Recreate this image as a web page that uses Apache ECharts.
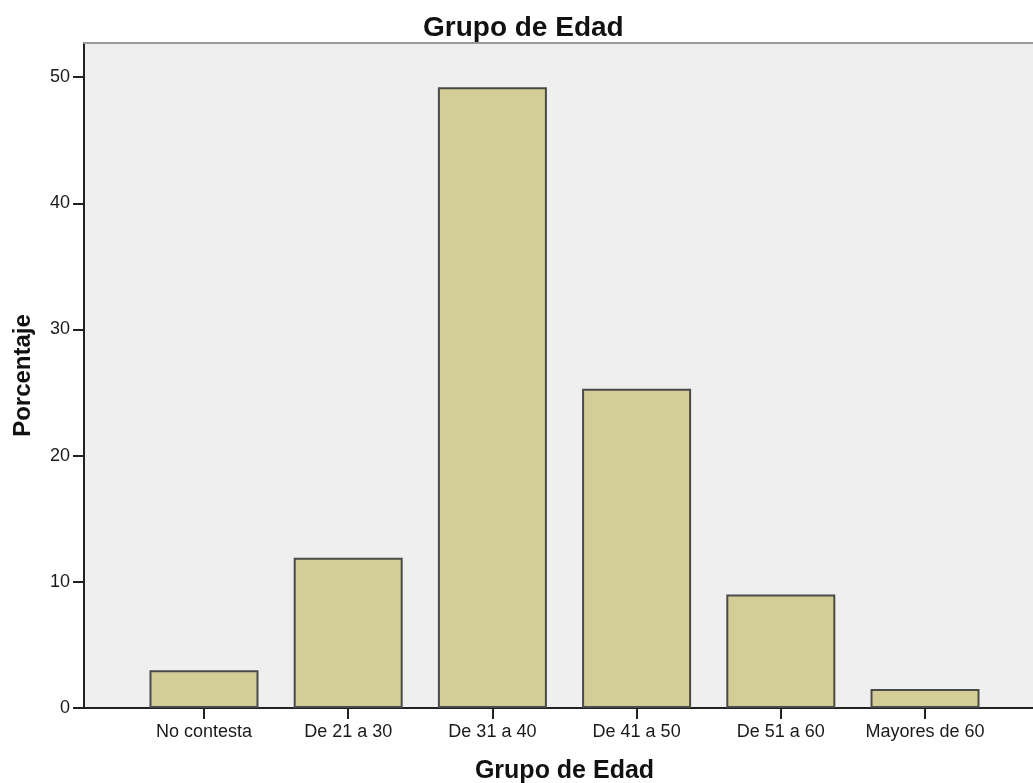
<!DOCTYPE html>
<html>
<head>
<meta charset="utf-8">
<title>Grupo de Edad</title>
<script src="https://cdn.jsdelivr.net/npm/echarts@6/dist/echarts.min.js"></script>
<style>
  html, body { margin: 0; padding: 0; background: #ffffff; }
  #chart { width: 1033px; height: 783px; }
</style>
</head>
<body>
<div id="chart"></div>
<script>
// Age groups and the share of respondents in each (percent)
const categories = ['No contesta', 'De 21 a 30', 'De 31 a 40', 'De 41 a 50', 'De 51 a 60', 'Mayores de 60'];
const percentages = [3.0, 11.9, 49.2, 25.3, 9.0, 1.5];
const yTicks = [0, 10, 20, 30, 40, 50];

const FONT = "'Liberation Sans', Arial, sans-serif";
const catPositions = categories.map((_, i) => i);

const chart = echarts.init(document.getElementById('chart'), null, { renderer: 'canvas' });

chart.setOption({
  backgroundColor: '#ffffff',
  animation: false,
  title: {
    text: 'Grupo de Edad',
    left: 418,
    top: 9,
    textStyle: { fontFamily: FONT, fontSize: 28, fontWeight: 'bold', color: '#111111' }
  },
  grid: {
    left: 84,
    top: 43,
    right: -12,
    bottom: 75,
    outerBoundsMode: 'none',
    containLabel: false,
    show: true,
    backgroundColor: '#efefef',
    borderWidth: 0
  },
  xAxis: [
    {
      type: 'value',
      min: -0.832,
      max: 5.832,
      position: 'bottom',
      name: 'Grupo de Edad',
      nameLocation: 'middle',
      nameGap: 51,
      nameTextStyle: { fontFamily: FONT, fontSize: 25, fontWeight: 'bold', color: '#111111' },
      axisLine: { show: true, onZero: false, lineStyle: { color: '#222222', width: 2 } },
      axisTick: { show: true, length: 11, customValues: catPositions, lineStyle: { color: '#222222', width: 2 } },
      axisLabel: {
        customValues: catPositions,
        formatter: (v) => categories[Math.round(v)],
        fontFamily: FONT, fontSize: 18, color: '#1a1a1a', margin: 15
      },
      splitLine: { show: false }
    },
    {
      type: 'value',
      min: 0,
      max: 1,
      position: 'top',
      axisLine: { show: true, onZero: false, lineStyle: { color: '#9a9a9a', width: 2 } },
      axisTick: { show: false },
      axisLabel: { show: false },
      splitLine: { show: false }
    }
  ],
  yAxis: {
    type: 'value',
    min: 0,
    max: 52.7,
    interval: 10,
    name: 'Porcentaje',
    nameLocation: 'middle',
    nameRotate: 90,
    nameGap: 49,
    nameTextStyle: { fontFamily: FONT, fontSize: 24, fontWeight: 'bold', color: '#111111' },
    axisLine: { show: true, onZero: false, lineStyle: { color: '#222222', width: 2 } },
    axisTick: { show: true, length: 11, customValues: yTicks, lineStyle: { color: '#222222', width: 2 } },
    axisLabel: {
      customValues: yTicks,
      fontFamily: FONT, fontSize: 18, color: '#1a1a1a', margin: 14
    },
    splitLine: { show: false }
  },
  series: [
    {
      type: 'bar',
      xAxisIndex: 0,
      yAxisIndex: 0,
      barWidth: 109,
      data: percentages.map((v, i) => [i, v]),
      itemStyle: { color: '#d3ce97', borderColor: '#4a4a4a', borderWidth: 2 }
    }
  ]
});
</script>
</body>
</html>
